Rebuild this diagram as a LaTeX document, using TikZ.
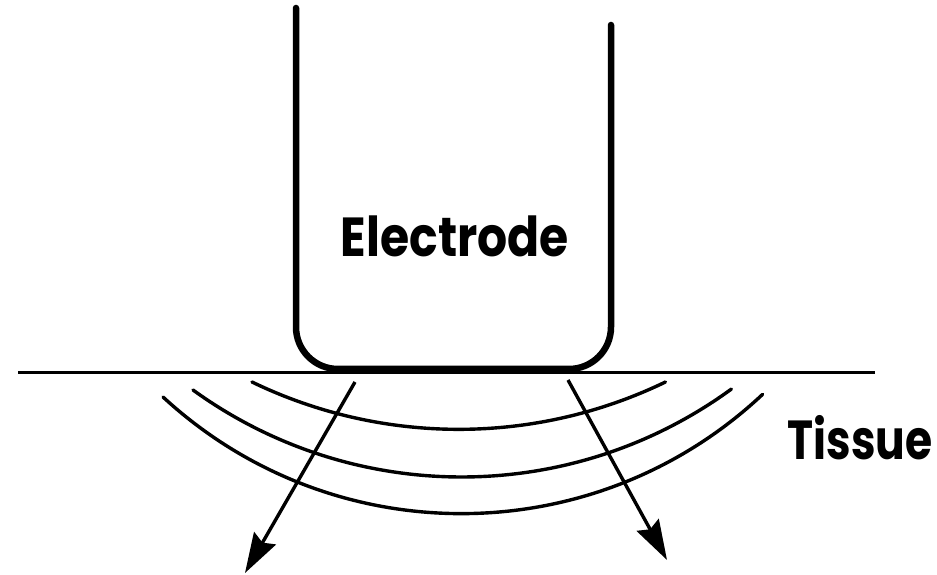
\documentclass[tikz,border=0pt]{standalone}
\usepackage{fontspec}
\newfontfamily\labfont{Poppins}
\usetikzlibrary{arrows.meta}
\newcommand{\labtext}[2][0.86]{\scalebox{#1}[1]{#2}}
\tikzset{
  elec/.style={line width=6.5pt, line cap=round, line join=round, rounded corners=42pt},
  surface/.style={line width=3pt},
  wave/.style={line width=3.4pt, line cap=round},
  ray/.style={line width=3.4pt, -{Stealth[length=40pt,width=25pt,inset=5pt]}},
  lab/.style={font=\labfont\bfseries\fontsize{55}{62}\selectfont, inner sep=0pt, anchor=base}
}
\begin{document}
\begin{tikzpicture}[x=1pt,y=1pt]
\useasboundingbox (0,0) rectangle (937,575);
% electrode
\coordinate (eTL) at (296,567);
\coordinate (eBL) at (296,206);
\coordinate (eBR) at (611,206);
\coordinate (eTR) at (611,550);
\draw[elec] (eTL) -- (eBL) -- (eBR) -- (eTR);
% tissue surface
\coordinate (sL) at (18,202);
\coordinate (sR) at (875,202);
\draw[surface] (sL) -- (sR);
% waves
\coordinate (w1) at (252,193);
\coordinate (w2) at (193,185);
\coordinate (w3) at (163,178);
\draw[wave] (w1) arc[start angle=244.2, end angle=295.8, radius=475pt];
\draw[wave] (w2) arc[start angle=234.1, end angle=306.1, radius=458pt];
\draw[wave] (w3) arc[start angle=227.3, end angle=313.2, radius=440pt];
% rays
\coordinate (a1s) at (355,193);
\coordinate (a1e) at (245,2);
\coordinate (a2s) at (568,195);
\coordinate (a2e) at (667,15);
\draw[ray] (a1s) -- (a1e);
\draw[ray] (a2s) -- (a2e);
% labels
\node[lab] (electrode) at (455,318) {\labtext{Electrode}};
\node[lab] (tissue) at (860,115) {\labtext[0.8]{Tissue}};
\end{tikzpicture}
\end{document}
